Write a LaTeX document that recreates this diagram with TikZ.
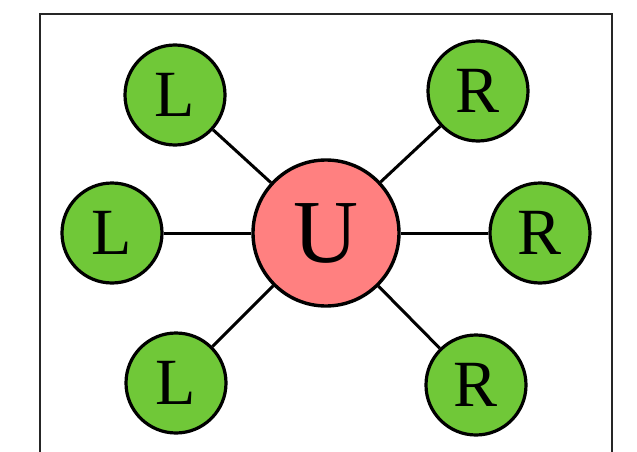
\documentclass[tikz,border=0pt]{standalone}
\usepackage{fontspec}
\setmainfont{Liberation Serif}
\definecolor{lgreen}{RGB}{112,200,56}
\definecolor{upink}{RGB}{255,128,128}
\begin{document}
\begin{tikzpicture}[x=1pt,y=-1pt,
  leaf/.style={circle,draw=black,line width=3.2pt,fill=lgreen,minimum size=100pt,inner sep=0pt,font=\fontsize{66}{66}\selectfont},
  hub/.style={circle,draw=black,line width=3.4pt,fill=upink,minimum size=146pt,inner sep=0pt,font=\fontsize{90}{90}\selectfont},
  link/.style={line width=3pt,black}]
\useasboundingbox (0,0) rectangle (637,452);
\draw[line width=2.2pt,draw=black!85] (40,470) -- (40,14) -- (612,14) -- (612,470);
\node[hub] (u) at (326,233) {U};
\node[leaf] (l1) at (175,95) {L};
\node[leaf] (l2) at (112,233) {L};
\node[leaf] (l3) at (176,383) {L};
\node[leaf] (r1) at (478,91) {R};
\node[leaf] (r2) at (540,233) {R};
\node[leaf] (r3) at (476,385) {R};
\foreach \n in {l1,l2,l3,r1,r2,r3} \draw[link] (u) -- (\n);
\end{tikzpicture}
\end{document}
